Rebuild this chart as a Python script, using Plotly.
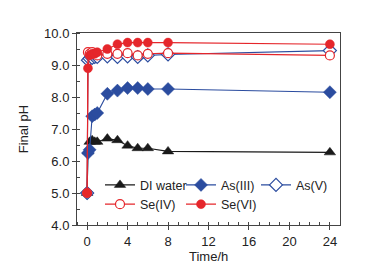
import plotly.graph_objects as go

time_h = [0, 0.083, 0.25, 0.5, 0.75, 1, 2, 3, 4, 5, 6, 8, 24]
di_water = [5.0, 6.3, 6.6, 6.65, 6.6, 6.6, 6.7, 6.65, 6.48, 6.4, 6.4, 6.3, 6.27]
as_iii = [5.0, 6.25, 6.35, 7.4, 7.45, 7.5, 8.1, 8.2, 8.28, 8.28, 8.25, 8.25, 8.15]
as_v = [5.0, 9.15, 9.2, 9.22, 9.25, 9.25, 9.27, 9.25, 9.27, 9.25, 9.3, 9.33, 9.45]
se_iv = [5.0, 9.4, 9.35, 9.4, 9.35, 9.3, 9.35, 9.35, 9.37, 9.3, 9.35, 9.37, 9.3]
se_vi = [5.0, 8.9, 9.3, 9.35, 9.35, 9.4, 9.5, 9.65, 9.7, 9.7, 9.7, 9.7, 9.65]

x_ticks = [0, 4, 8, 12, 16, 20, 24]
y_ticks = [4.0, 5.0, 6.0, 7.0, 8.0, 9.0, 10.0]

BLACK = "#1a1a1a"
BLUE = "#2b4c9f"
RED = "#e5262b"
FONT = "Liberation Sans, Arial, sans-serif"

fig = go.Figure()
series = [
    ("DI water", di_water, BLACK, "triangle-up", BLACK, "legend"),
    ("As(III)", as_iii, BLUE, "diamond", BLUE, "legend2"),
    ("As(V)", as_v, BLUE, "diamond-open", BLUE, "legend3"),
    ("Se(IV)", se_iv, RED, "circle", "white", "legend"),
    ("Se(VI)", se_vi, RED, "circle", RED, "legend2"),
]
for name, vals, col, sym, fill, leg in series:
    if sym == "circle" and fill == "white":
        marker = dict(symbol="circle", size=9, color="white", line=dict(color=col, width=1.2))
    elif sym == "diamond-open":
        marker = dict(symbol="diamond", size=10, color="white", line=dict(color=col, width=1.2))
    else:
        marker = dict(symbol=sym, size=10 if sym != "circle" else 9, color=fill, line=dict(color=col, width=0.5))
    fig.add_trace(go.Scatter(
        x=time_h, y=vals, name=name, mode="lines+markers",
        line=dict(color=col, width=1.1), marker=marker, legend=leg,
    ))

leg_common = dict(orientation="v", bgcolor="rgba(0,0,0,0)", font=dict(family=FONT, size=12.5, color="#222"),
                  xanchor="left", yanchor="top", y=0.285, tracegroupgap=0, itemwidth=30)
W = 263.0
fig.update_layout(
    width=379, height=265,
    margin=dict(l=69, r=47, t=25, b=48),
    paper_bgcolor="white", plot_bgcolor="white",
    font=dict(family=FONT, size=13, color="#222"),
    legend=dict(**leg_common, x=(92 - 69) / W),
    legend2=dict(**leg_common, x=(173 - 69) / W),
    legend3=dict(**leg_common, x=(248 - 69) / W),
    xaxis=dict(
        range=[-1, 25], tickvals=x_ticks, ticktext=[str(v) for v in x_ticks],
        ticks="outside", ticklen=4, tickcolor="#444", showline=True, linecolor="#444", linewidth=1,
        mirror=True, showgrid=False, zeroline=False,
        minor=dict(dtick=1, ticks="inside", ticklen=3, tickcolor="#444", showgrid=False),
        tickfont=dict(size=13),
    ),
    yaxis=dict(
        range=[4, 10], tickvals=y_ticks, ticktext=[f"{v:.1f}" for v in y_ticks],
        ticks="outside", ticklen=4, tickcolor="#444", showline=True, linecolor="#444", linewidth=1,
        mirror=True, showgrid=False, zeroline=False,
        minor=dict(dtick=0.5, ticks="inside", ticklen=3, tickcolor="#444", showgrid=False),
        title=dict(text="Final pH", standoff=12, font=dict(size=13)),
        tickfont=dict(size=13),
    ),
    annotations=[dict(text="Time/h", xref="paper", yref="paper", x=0.5, y=-0.165,
                      xanchor="center", yanchor="middle", showarrow=False,
                      font=dict(family=FONT, size=13, color="#222"))],
)
fig.write_html("out.html")
